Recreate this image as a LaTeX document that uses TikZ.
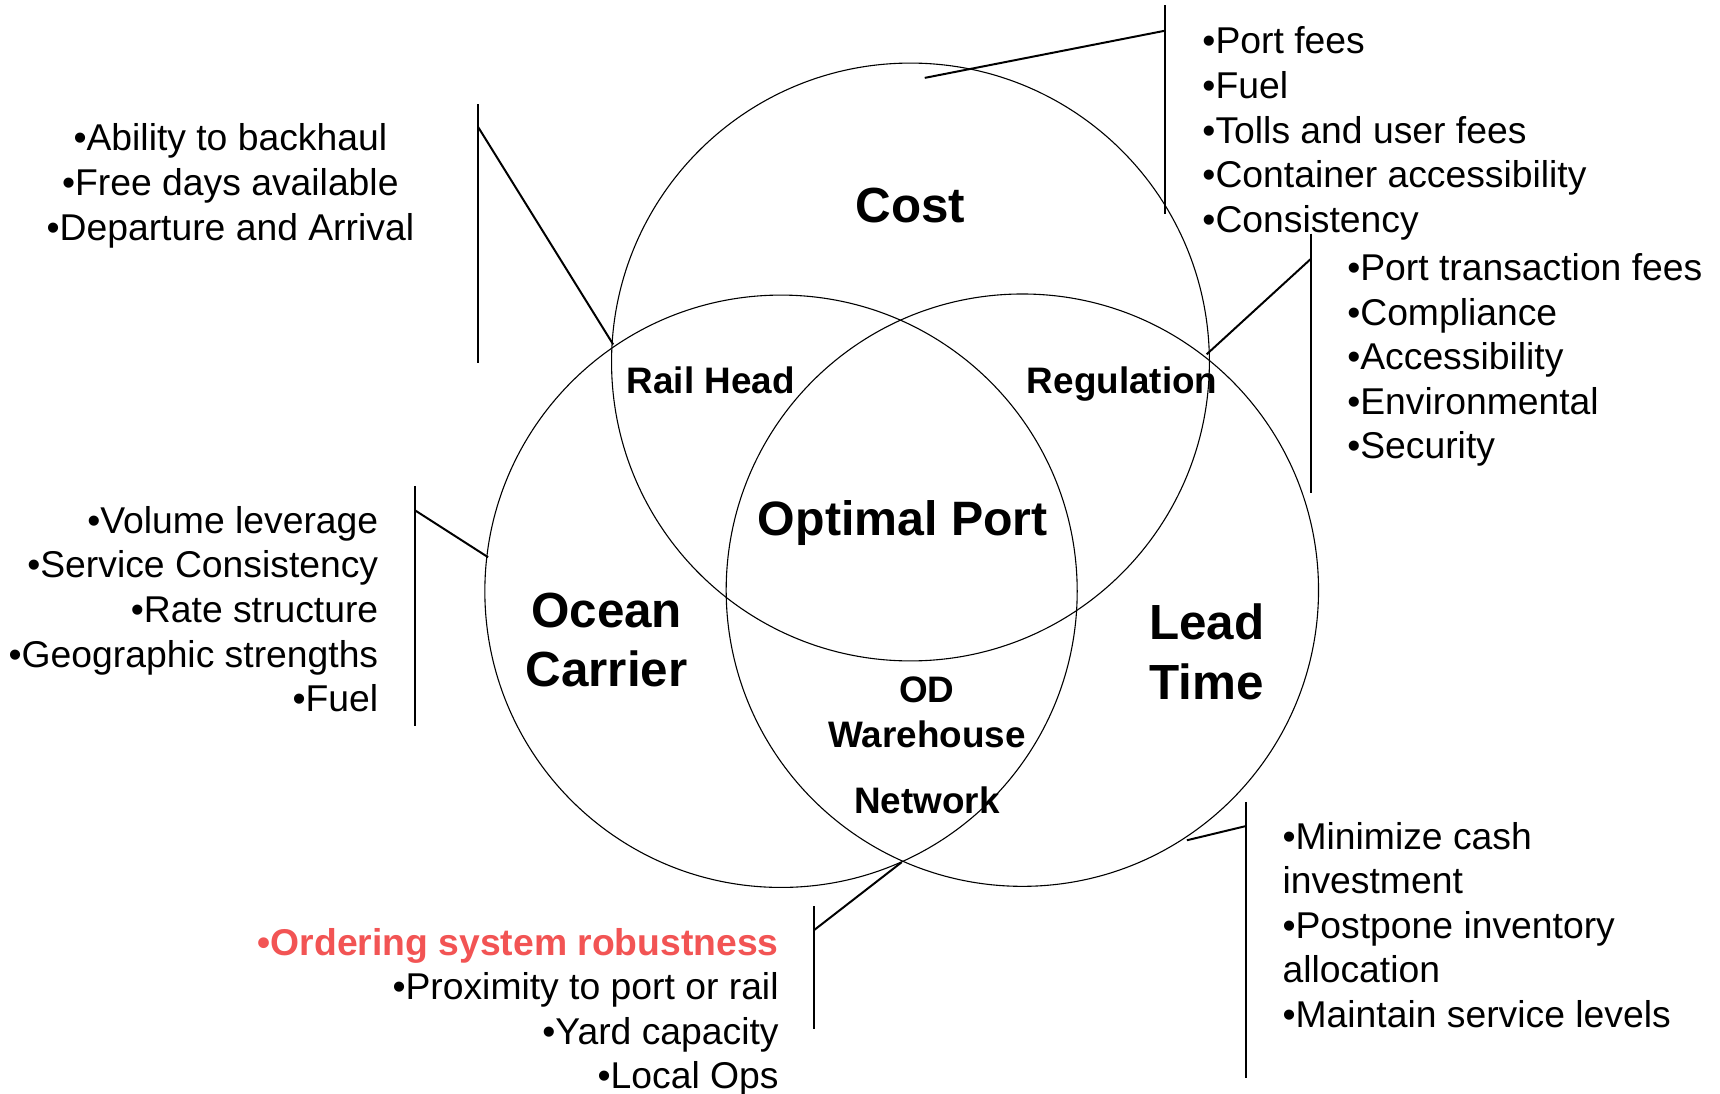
\documentclass[tikz,border=0pt]{standalone}
\usepackage{fontspec}
\setmainfont{Liberation Sans}
\definecolor{redtext}{RGB}{242,84,84}
\begin{document}
\begin{tikzpicture}[x=1pt,y=-1pt,
  ring/.style={draw, circle, line width=1pt, inner sep=0pt, outer sep=0pt, minimum size=#1},
  leader/.style={line width=1.8pt},
  biglbl/.style={font=\fontsize{45}{54}\selectfont\bfseries, inner sep=0pt, anchor=base},
  midlbl/.style={font=\fontsize{33.6}{40}\selectfont\bfseries, inner sep=0pt, anchor=base},
  item/.style={font=\fontsize{34}{40.5}\selectfont, inner sep=0pt},
]
\fill[white] (0,0) rectangle (1568,997);
\useasboundingbox (0,0) rectangle (1568,997);

% circles
\node[ring=545pt] (cost) at (830,330) {};
\node[ring=540pt] (ocean) at (712,539) {};
\node[ring=540pt] (lead) at (932,538) {};

% circle labels
\node[biglbl] (costlbl) at (830,203) {Cost};
\node[biglbl, font=\fontsize{44}{52}\selectfont\bfseries] (optlbl) at (823,488) {Optimal Port};
\node[biglbl] (oceanlbl) at (553,572) {Ocean};
\node[biglbl] (carrierlbl) at (553,626) {Carrier};
\node[biglbl] (leadlbl) at (1100,583) {Lead};
\node[biglbl] (timelbl) at (1100,638) {Time};
\node[midlbl] (raillbl) at (648,359) {Rail Head};
\node[midlbl] (reglbl) at (1023,359) {Regulation};
\node[midlbl] (odlbl) at (845,640) {OD};
\node[midlbl] (warelbl) at (845,681) {Warehouse};
\node[midlbl] (netlbl) at (845,742) {Network};

% lists
\foreach \t [count=\i] in {Port fees, Fuel, Tolls and user fees, Container accessibility, Consistency}
  \node[item, anchor=base west] (costitem\i) at (1096,{49+40.7*(\i-1)}) {•\t};
\foreach \t [count=\i] in {Port transaction fees, Compliance, Accessibility, Environmental, Security}
  \node[item, anchor=base west] (regitem\i) at (1228,{256+40.5*(\i-1)}) {•\t};
\foreach \t [count=\i] in {Ability to backhaul, Free days available, Departure and Arrival}
  \node[item, anchor=base] (railitem\i) at (210,{137+41*(\i-1)}) {•\t};
\foreach \t [count=\i] in {Volume leverage, Service Consistency, Rate structure, Geographic strengths, Fuel}
  \node[item, anchor=base east] (oceanitem\i) at (345,{486+40.7*(\i-1)}) {•\t};
\node[item, anchor=base east, text=redtext, font=\fontsize{34}{40.5}\selectfont\bfseries] (oditem1) at (710,871) {•Ordering system robustness};
\foreach \t [count=\i from 2] in {Proximity to port or rail, Yard capacity, Local Ops}
  \node[item, anchor=base east] (oditem\i) at (710,{871+40.4*(\i-1)}) {•\t};
\foreach \t [count=\i] in {•Minimize cash, investment, •Postpone inventory, allocation, •Maintain service levels}
  \node[item, anchor=base west] (leaditem\i) at (1169,{774+40.7*(\i-1)}) {\t};

% connector coordinates
\coordinate (costtop) at (1062,5);
\coordinate (costbot) at (1062,195);
\coordinate (costj) at (1062,28);
\coordinate (costend) at (843,71);

\coordinate (railtop) at (436,95);
\coordinate (railbot) at (436,331);
\coordinate (railj) at (436,116);
\coordinate (railpt) at (559,314);

\coordinate (regtop) at (1195,213);
\coordinate (regbot) at (1195,449);
\coordinate (regj) at (1195,236);
\coordinate (regpt) at (1100,323);

\coordinate (octop) at (378,443);
\coordinate (ocbot) at (378,662);
\coordinate (ocj) at (378,465);
\coordinate (ocpt) at (445,508);

\coordinate (odtop) at (742,826);
\coordinate (odbot) at (742,938);
\coordinate (odj) at (742,848);
\coordinate (odpt) at (822,786);

\coordinate (ltop) at (1136,731);
\coordinate (lbot) at (1136,983);
\coordinate (lj) at (1136,753);
\coordinate (lpt) at (1082,766);

% connectors
\draw[leader] (costtop) -- (costbot);
\draw[leader] (costj) -- (costend);
\draw[leader] (railtop) -- (railbot);
\draw[leader] (railj) -- (railpt);
\draw[leader] (regtop) -- (regbot);
\draw[leader] (regj) -- (regpt);
\draw[leader] (octop) -- (ocbot);
\draw[leader] (ocj) -- (ocpt);
\draw[leader] (odtop) -- (odbot);
\draw[leader] (odj) -- (odpt);
\draw[leader] (ltop) -- (lbot);
\draw[leader] (lj) -- (lpt);
\end{tikzpicture}
\end{document}
